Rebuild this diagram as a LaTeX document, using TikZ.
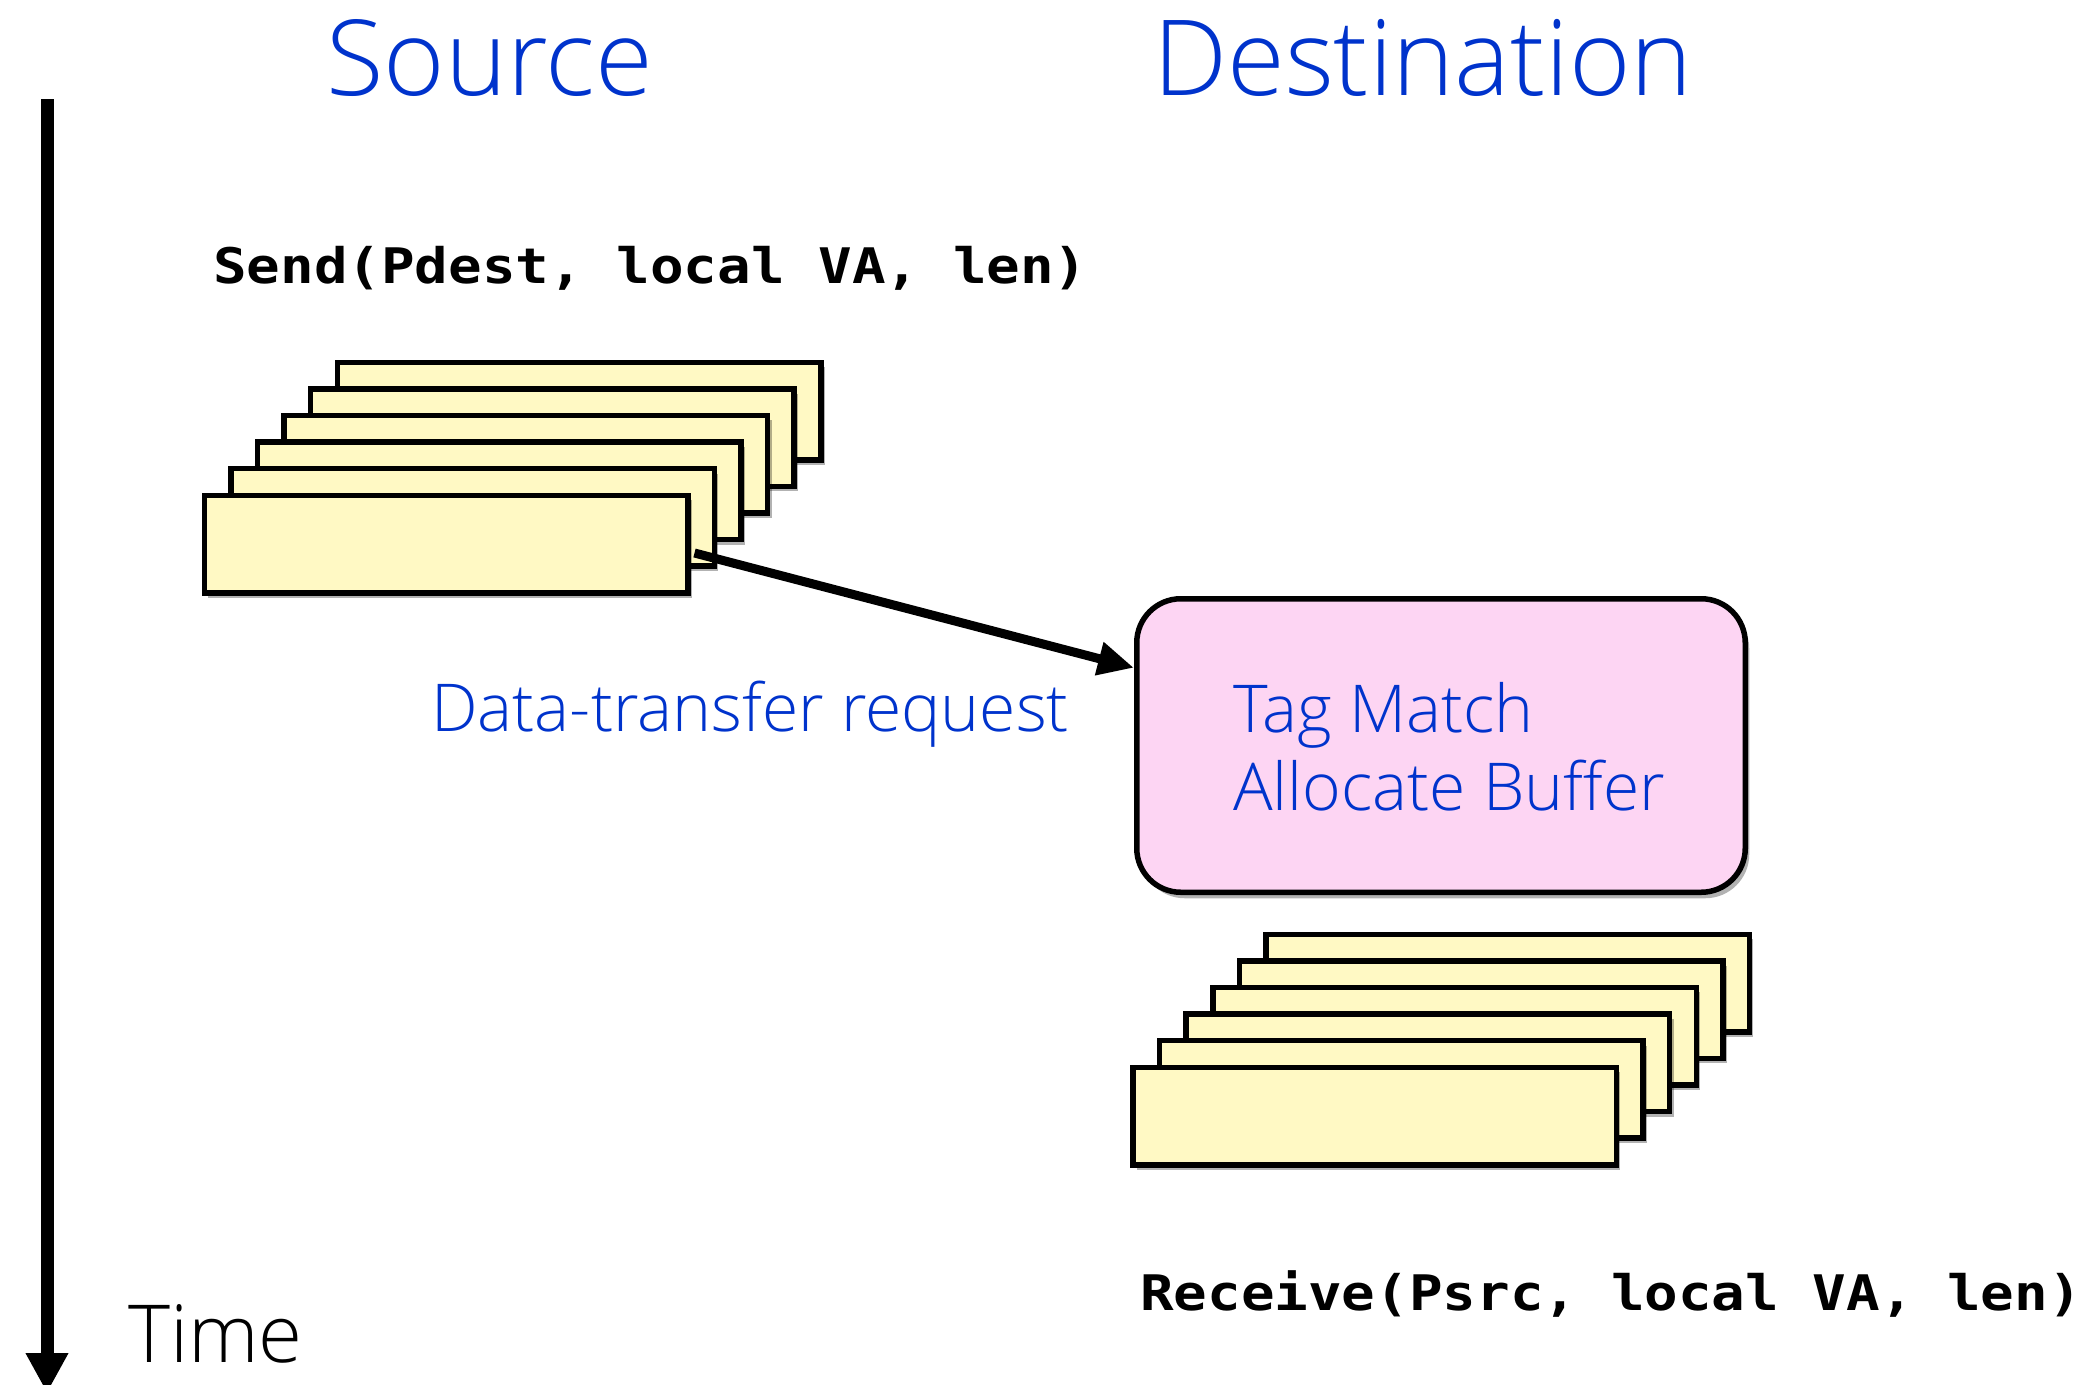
\documentclass[tikz,border=0pt]{standalone}
\usepackage{fontspec}
\usetikzlibrary{arrows.meta,calc,shadows}
\IfFontExistsTF{Open Sans Light}{\newfontfamily\lightfont{Open Sans Light}}{%
  \IfFontExistsTF{Fira Sans Light}{\newfontfamily\lightfont{Fira Sans Light}}{\newfontfamily\lightfont{Open Sans}}}
\newfontfamily\codefont{DejaVu Sans Mono}[FakeStretch=1.14]
\definecolor{txtblue}{HTML}{0033CC}
\definecolor{memyellow}{HTML}{FFF9C4}
\definecolor{tagpink}{HTML}{FDD5F3}
\tikzset{
  membox/.style={draw=black, fill=memyellow, line width=5.5pt, minimum width=483.5pt, minimum height=97.5pt, inner sep=0pt,
    drop shadow={shadow xshift=4pt, shadow yshift=-5pt, fill=black, opacity=0.3}},
  tagbox/.style={draw=black, fill=tagpink, line width=5.5pt, rounded corners=44pt, minimum width=608.5pt, minimum height=293.5pt, inner sep=0pt,
    drop shadow={shadow xshift=4pt, shadow yshift=-6pt, fill=black, opacity=0.3}},
  title/.style={text=txtblue, font=\lightfont\fontsize{105}{120}\selectfont, inner sep=0pt, anchor=base},
  bluelabel/.style={text=txtblue, font=\lightfont\fontsize{66}{80}\selectfont, inner sep=0pt, anchor=base west},
  codelabel/.style={text=black, font=\codefont\bfseries\fontsize{49}{56}\selectfont, inner sep=0pt, anchor=base west},
  timelabel/.style={text=black, font=\lightfont\fontsize{80}{96}\selectfont, inner sep=0pt, anchor=base west},
  flow/.style={line width=9pt, -{Triangle[length=36pt,width=32pt]}},
  timeaxis/.style={line width=13pt, -{Triangle[length=40pt,width=40pt]}}
}
\begin{document}
\begin{tikzpicture}[x=1pt,y=-1pt]
\useasboundingbox (0,0) rectangle (2100,1384);
% titles
\node[title] (srctitle) at (490,95) {Source};
\node[title] (dsttitle) at (1423,95) {Destination};
% time axis
\coordinate (ttop) at (47,99);
\coordinate (tbot) at (47,1393);
\draw[timeaxis] (ttop) -- (tbot);
\node[timelabel] (time) at (128,1362) {Time};
% send call
\node[codelabel] (send) at (213,283) {Send(Pdest, local VA, len)};
% source stack (back to front)
\foreach \i in {5,4,3,2,1,0} {
  \node[membox] (src\i) at ({446+26.6*\i},{544-26.6*\i}) {};
}
% tag match box
\node[tagbox] (tag) at (1441,745.5) {};
\node[bluelabel] (tag1) at (1233,732) {Tag Match};
\node[bluelabel] (tag2) at (1233,810) {Allocate Buffer};
% destination stack
\foreach \i in {5,4,3,2,1,0} {
  \node[membox] (dst\i) at ({1374.7+26.6*\i},{1116-26.6*\i}) {};
}
% request arrow
\draw[flow] ($(src0.east)+(4,9)$) -- ($(tag.north west)!0.24!(tag.south west)$);
\node[bluelabel] (req) at (431,731) {Data-transfer request};
% receive call
\node[codelabel] (recv) at (1140,1310) {Receive(Psrc, local VA, len)};
\end{tikzpicture}
\end{document}
